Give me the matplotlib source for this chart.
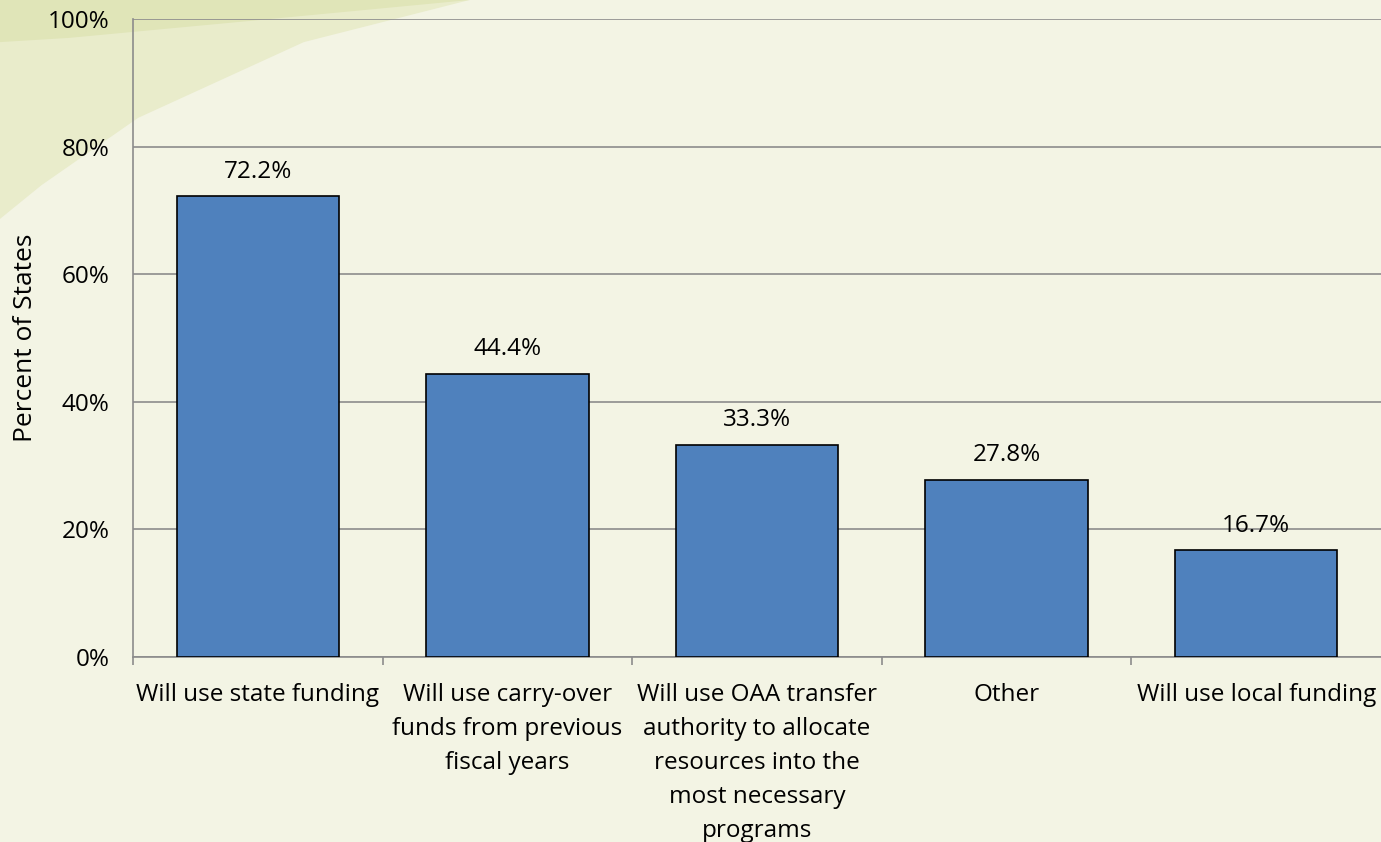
import matplotlib
matplotlib.use("Agg")
import matplotlib.pyplot as plt
from matplotlib.patches import Polygon
from matplotlib.ticker import FuncFormatter, MultipleLocator
import numpy as np

categories = [
    "Will use state funding",
    "Will use carry-over\nfunds from previous\nfiscal years",
    "Will use OAA transfer\nauthority to allocate\nresources into the\nmost necessary\nprograms",
    "Other",
    "Will use local funding",
]
percent_states = [72.2, 44.4, 33.3, 27.8, 16.7]

plt.rcParams["font.family"] = ["Open Sans", "DejaVu Sans"]

fig = plt.figure(figsize=(13.81, 8.42), dpi=100)
fig.patch.set_facecolor("#F3F4E4")

# soft green swoosh in the top-left corner of the slide
swoosh = Polygon([(0, 1), (0.34, 1), (0.22, 0.95), (0.10, 0.86), (0.03, 0.78), (0, 0.74)],
                 closed=True, transform=fig.transFigure,
                 facecolor="#E9ECCB", edgecolor="none", zorder=-2)
fig.patches.append(swoosh)
swoosh2 = Polygon([(0, 1), (0.34, 1), (0.18, 0.975), (0.05, 0.955), (0, 0.95)],
                  closed=True, transform=fig.transFigure,
                  facecolor="#E0E5B8", edgecolor="none", zorder=-1)
fig.patches.append(swoosh2)

ax = fig.add_axes([0.0963, 0.2197, 0.9037, 0.7577])
ax.set_facecolor("none")

x = np.arange(len(categories))
bars = ax.bar(x, percent_states, width=0.65, color="#4F81BD",
              edgecolor="black", linewidth=1.2, zorder=3)

for xi, v in zip(x, percent_states):
    ax.annotate(f"{v:.1f}%", (xi, v), xytext=(0, 9), textcoords="offset points",
                ha="center", va="bottom", fontsize=17.5, color="black", zorder=4)

ax.set_xlim(-0.5, len(categories) - 0.5)
ax.set_ylim(0, 100)
ax.yaxis.set_major_locator(MultipleLocator(20))
ax.yaxis.set_major_formatter(FuncFormatter(lambda v, p: f"{v:.0f}%"))
ax.grid(axis="y", color="#8C8C8C", linewidth=1.2, zorder=1)

ax.set_xticks(x)
ax.set_xticklabels(categories, fontsize=17.5, linespacing=1.56)
ax.set_xticks(np.arange(len(categories)) - 0.5, minor=True)
ax.tick_params(axis="x", which="major", length=0, pad=18.5)
ax.tick_params(axis="x", which="minor", length=6, color="#8C8C8C", width=1.2)
ax.tick_params(axis="y", length=0, pad=17, labelsize=17.5)

for side in ["top", "right"]:
    ax.spines[side].set_visible(False)
for side in ["left", "bottom"]:
    ax.spines[side].set_color("#8C8C8C")
    ax.spines[side].set_linewidth(1.2)

ax.set_ylabel("Percent of States", fontsize=19, labelpad=7)

fig.savefig("out.png", dpi=100, facecolor=fig.get_facecolor())
